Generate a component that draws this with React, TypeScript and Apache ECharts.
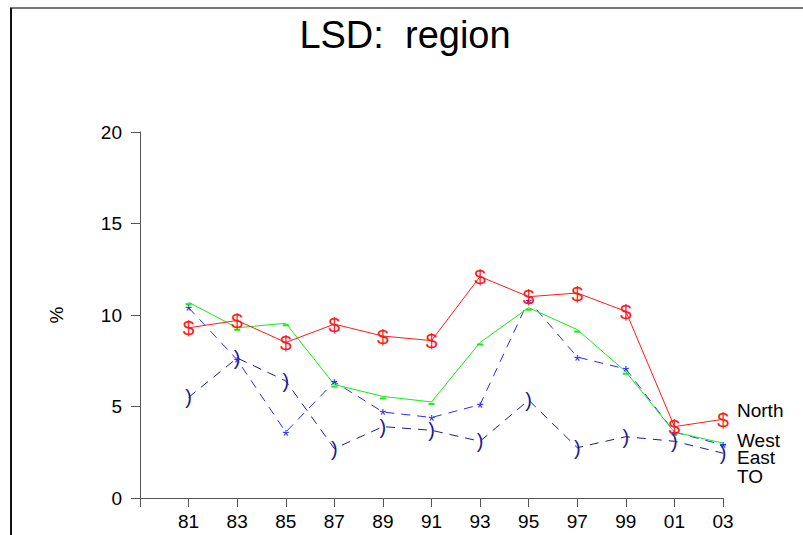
import React, { useEffect, useRef } from "react";
import * as echarts from "echarts";

const years = ["81", "83", "85", "87", "89", "91", "93", "95", "97", "99", "01", "03"];
const north = [9.3, 9.7, 8.5, 9.5, 8.85, 8.6, 12.1, 11.0, 11.2, 10.2, 3.9, 4.3];
const west = [10.7, 9.3, 9.55, 6.2, 5.55, 5.25, 8.5, 10.4, 9.2, 6.9, 3.6, 3.0];
const east = [10.4, 7.55, 3.6, 6.35, 4.7, 4.4, 5.1, 10.8, 7.7, 7.05, 3.6, 2.9];
const to = [5.5, 7.65, 6.4, 2.7, 3.9, 3.7, 3.1, 5.35, 2.75, 3.35, 3.1, 2.45];
const yTicks = [0, 5, 10, 15, 20];

const FONT = "'Liberation Sans', Arial, sans-serif";

function pts(v: number[]) {
  return v.map((y, i) => [i, y]);
}

export default function App() {
  const ref = useRef<HTMLDivElement>(null);
  useEffect(() => {
    if (!ref.current) return;
    const chart = echarts.init(ref.current, undefined, { renderer: "svg" });
    const textMarker = (ch: string, color: string, size: number, off: number[]) => ({
      symbol: "circle",
      symbolSize: 2,
      itemStyle: { color: "transparent" },
      label: {
        show: true,
        position: "inside",
        formatter: ch,
        color,
        fontSize: size,
        fontFamily: FONT,
        offset: off,
      },
    });
    const endLabel = (dy: number) => ({
      show: true,
      formatter: (p: any) => p.seriesName,
      fontSize: 19,
      fontFamily: FONT,
      color: "#000",
      distance: 14,
      offset: [0, dy],
    });
    chart.setOption({
      animation: false,
      backgroundColor: "#fff",
      title: {
        text: "LSD:  region",
        left: 400,
        textAlign: "center",
        top: 11,
        textStyle: { fontSize: 38, fontWeight: "normal", color: "#000", fontFamily: FONT },
      },
      grid: { left: 140, right: 80, top: 132, bottom: 37, containLabel: false },
      xAxis: {
        type: "value",
        min: -1,
        max: 11,
        interval: 1,
        splitLine: { show: false },
        axisLine: { onZero: false, lineStyle: { color: "#555", width: 1 } },
        axisTick: { length: 9, lineStyle: { color: "#555" } },
        axisLabel: {
          formatter: (v: number) => (v >= 0 && v < years.length ? years[v] : ""),
          fontSize: 19,
          fontFamily: FONT,
          color: "#000",
          margin: 14,
        },
      },
      yAxis: {
        type: "value",
        min: yTicks[0],
        max: yTicks[yTicks.length - 1],
        interval: 5,
        name: "%",
        nameLocation: "middle",
        nameGap: 74,
        nameRotate: 90,
        nameTextStyle: { fontSize: 19, fontFamily: FONT, color: "#000" },
        splitLine: { show: false },
        axisLine: { show: true, onZero: false, lineStyle: { color: "#555", width: 1 } },
        axisTick: { show: true, length: 9, lineStyle: { color: "#555" } },
        axisLabel: { fontSize: 19, fontFamily: FONT, color: "#000", margin: 18 },
      },
      graphic: [
        { type: "line", shape: { x1: 10, y1: 8, x2: 803, y2: 8 }, style: { stroke: "#777", lineWidth: 2 } },
        { type: "line", shape: { x1: 11, y1: 8, x2: 11, y2: 535 }, style: { stroke: "#111", lineWidth: 2 } },
      ],
      series: [
        {
          name: "TO",
          type: "line",
          data: pts(to),
          lineStyle: { color: "#1c1c90", width: 1, type: [9, 7] },
          ...textMarker(")", "#1c1c90", 20, [0, 0]),
          endLabel: endLabel(23),
        },
        {
          name: "East",
          type: "line",
          data: pts(east),
          lineStyle: { color: "#2a2aff", width: 1, type: [9, 7] },
          ...textMarker("*", "#2a2aff", 17, [0, 4]),
          endLabel: endLabel(13),
        },
        {
          name: "West",
          type: "line",
          data: pts(west),
          lineStyle: { color: "#11ee11", width: 1 },
          symbol: "rect",
          symbolSize: [6, 2],
          symbolOffset: [0, 2],
          itemStyle: { color: "#11ee11" },
          endLabel: endLabel(-3),
        },
        {
          name: "North",
          type: "line",
          data: pts(north),
          lineStyle: { color: "#ff1a1a", width: 1 },
          ...textMarker("$", "#ff1a1a", 21, [0, 0]),
          endLabel: endLabel(-9),
        },
      ],
    });
    return () => chart.dispose();
  }, []);
  return <div ref={ref} style={{ position: "fixed", left: 0, top: 0, width: 803, height: 535 }} />;
}
